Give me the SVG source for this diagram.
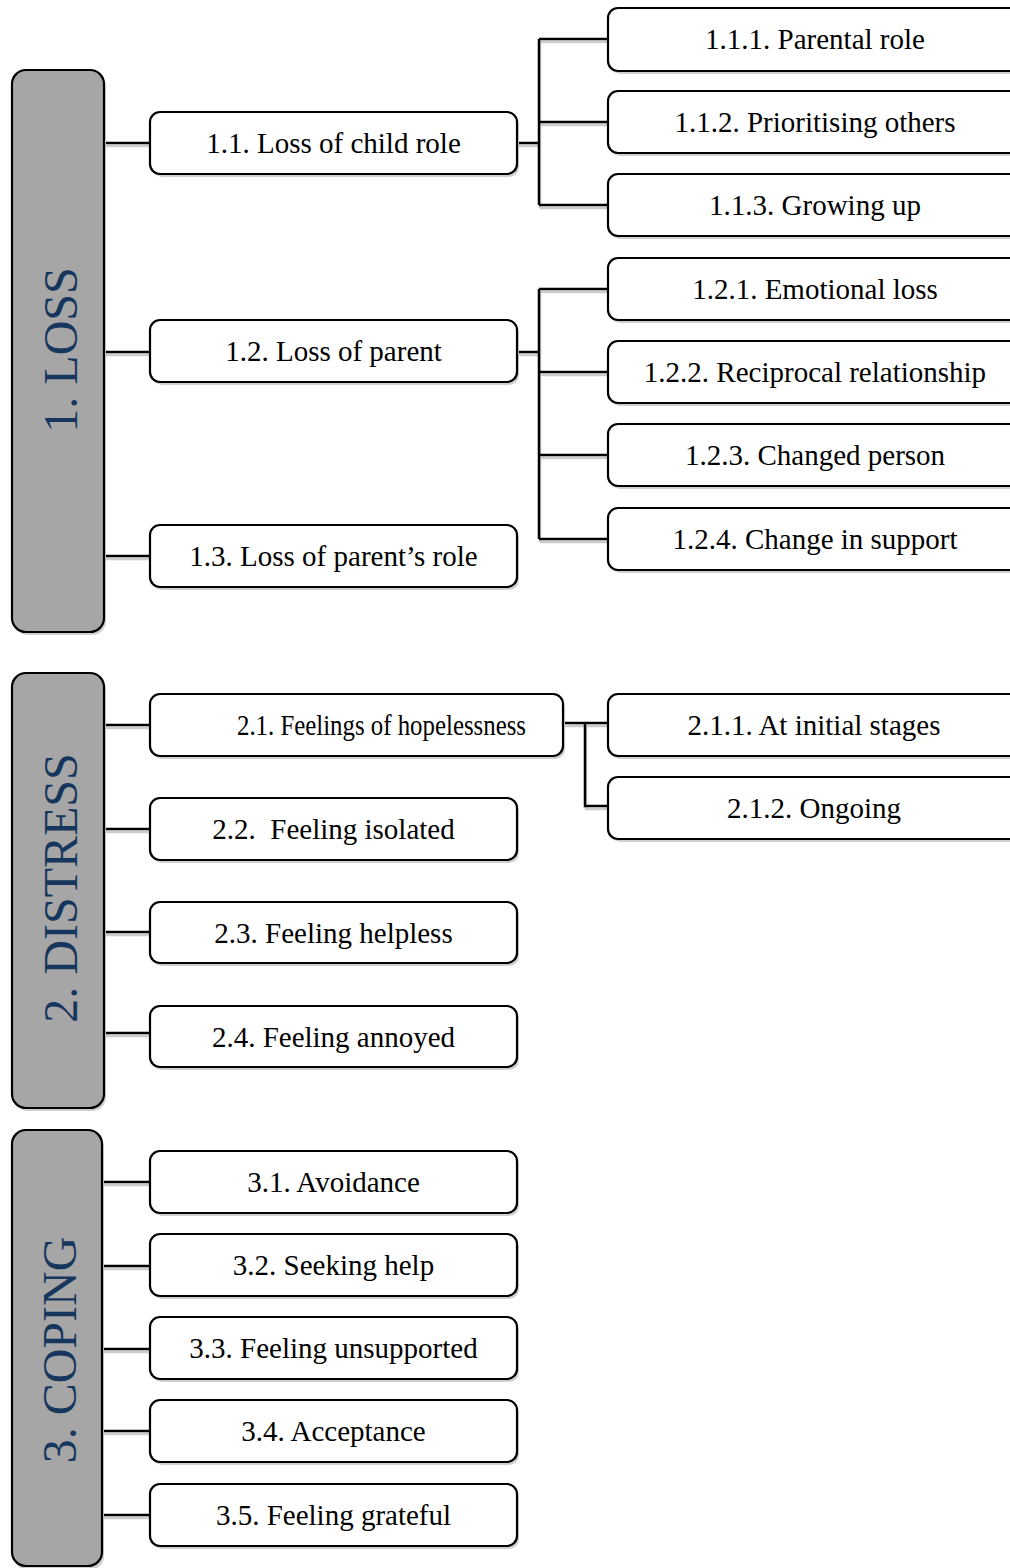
<svg xmlns="http://www.w3.org/2000/svg" width="1010" height="1568" viewBox="0 0 1010 1568">
<style>
.bg{fill:#ffffff}
.sh{fill:#cfcfcf}
.box{fill:#ffffff;stroke:#000000;stroke-width:2.2}
.tbox{fill:#a6a6a6;stroke:#000000;stroke-width:2.2}
.lbl{font-family:"Liberation Serif","Times New Roman",serif;font-size:29px;fill:#000000;text-anchor:middle}
.ttl{font-family:"Liberation Serif","Times New Roman",serif;font-size:48px;fill:#17365d;text-anchor:middle}
.ln{fill:none;stroke:#000000;stroke-width:2.5}
.lns{fill:none;stroke:#cccccc;stroke-width:2.5}
</style>
<rect class="bg" x="0" y="0" width="1010" height="1568"/>

<g id="connectors">
  <g transform="translate(1,3)">
    <path class="lns" d="M104 143H150M104 352H150M104 556H150"/>
    <path class="lns" d="M517 143H539M539 39V205M539 39H608M539 122H608M539 205H608"/>
    <path class="lns" d="M517 352H539M539 289V539M539 289H608M539 372H608M539 455H608M539 539H608"/>
    <path class="lns" d="M104 725H150M104 829H150M104 932H150M104 1033H150"/>
    <path class="lns" d="M563 723H608M585 723V806H608"/>
    <path class="lns" d="M102 1182H150M102 1266H150M102 1349H150M102 1431H150M102 1515H150"/>
  </g>
  <path class="ln" d="M104 143H150M104 352H150M104 556H150"/>
  <path class="ln" d="M517 143H539M539 39V205M539 39H608M539 122H608M539 205H608"/>
  <path class="ln" d="M517 352H539M539 289V539M539 289H608M539 372H608M539 455H608M539 539H608"/>
  <path class="ln" d="M104 725H150M104 829H150M104 932H150M104 1033H150"/>
  <path class="ln" d="M563 723H608M585 723V806H608"/>
  <path class="ln" d="M102 1182H150M102 1266H150M102 1349H150M102 1431H150M102 1515H150"/>
</g>

<g id="loss">
  <rect class="sh" x="14" y="73" width="92" height="562" rx="14"/>
  <rect class="tbox" x="12" y="70" width="92" height="562" rx="14"/>
  <text class="ttl" transform="translate(77,350) rotate(-90)">1. LOSS</text>
</g>
<g id="distress">
  <rect class="sh" x="14" y="676" width="92" height="435" rx="14"/>
  <rect class="tbox" x="12" y="673" width="92" height="435" rx="14"/>
  <text class="ttl" transform="translate(77,888) rotate(-90)">2. DISTRESS</text>
</g>
<g id="coping">
  <rect class="sh" x="14" y="1133" width="90" height="437" rx="14"/>
  <rect class="tbox" x="12" y="1130" width="90" height="436" rx="14"/>
  <text class="ttl" transform="translate(76,1350) rotate(-90)">3. COPING</text>
</g>

<g id="n1-1">
  <rect class="sh" x="152" y="115" width="367" height="62" rx="10"/>
  <rect class="box" x="150" y="112" width="367" height="62" rx="10"/>
  <text class="lbl" x="333.5" y="153">1.1. Loss of child role</text>
</g>
<g id="n1-2">
  <rect class="sh" x="152" y="323" width="367" height="62" rx="10"/>
  <rect class="box" x="150" y="320" width="367" height="62" rx="10"/>
  <text class="lbl" x="333.5" y="361">1.2. Loss of parent</text>
</g>
<g id="n1-3">
  <rect class="sh" x="152" y="528" width="367" height="62" rx="10"/>
  <rect class="box" x="150" y="525" width="367" height="62" rx="10"/>
  <text class="lbl" x="333.5" y="566">1.3. Loss of parent’s role</text>
</g>

<g id="n1-1-1">
  <rect class="sh" x="610" y="11" width="414" height="63" rx="10"/>
  <rect class="box" x="608" y="8" width="414" height="63" rx="10"/>
  <text class="lbl" x="815" y="49">1.1.1. Parental role</text>
</g>
<g id="n1-1-2">
  <rect class="sh" x="610" y="94" width="414" height="62" rx="10"/>
  <rect class="box" x="608" y="91" width="414" height="62" rx="10"/>
  <text class="lbl" x="815" y="132">1.1.2. Prioritising others</text>
</g>
<g id="n1-1-3">
  <rect class="sh" x="610" y="177" width="414" height="62" rx="10"/>
  <rect class="box" x="608" y="174" width="414" height="62" rx="10"/>
  <text class="lbl" x="815" y="215">1.1.3. Growing up</text>
</g>
<g id="n1-2-1">
  <rect class="sh" x="610" y="261" width="414" height="62" rx="10"/>
  <rect class="box" x="608" y="258" width="414" height="62" rx="10"/>
  <text class="lbl" x="815" y="299">1.2.1. Emotional loss</text>
</g>
<g id="n1-2-2">
  <rect class="sh" x="610" y="344" width="414" height="62" rx="10"/>
  <rect class="box" x="608" y="341" width="414" height="62" rx="10"/>
  <text class="lbl" x="815" y="382">1.2.2. Reciprocal relationship</text>
</g>
<g id="n1-2-3">
  <rect class="sh" x="610" y="427" width="414" height="62" rx="10"/>
  <rect class="box" x="608" y="424" width="414" height="62" rx="10"/>
  <text class="lbl" x="815" y="465">1.2.3. Changed person</text>
</g>
<g id="n1-2-4">
  <rect class="sh" x="610" y="511" width="414" height="62" rx="10"/>
  <rect class="box" x="608" y="508" width="414" height="62" rx="10"/>
  <text class="lbl" x="815" y="549">1.2.4. Change in support</text>
</g>

<g id="n2-1">
  <rect class="sh" x="152" y="697" width="413" height="62" rx="10"/>
  <rect class="box" x="150" y="694" width="413" height="62" rx="10"/>
  <text class="lbl" x="381.5" y="735" textLength="289" lengthAdjust="spacingAndGlyphs">2.1. Feelings of hopelessness</text>
</g>
<g id="n2-1-1">
  <rect class="sh" x="610" y="697" width="414" height="62" rx="10"/>
  <rect class="box" x="608" y="694" width="414" height="62" rx="10"/>
  <text class="lbl" x="814" y="735">2.1.1. At initial stages</text>
</g>
<g id="n2-1-2">
  <rect class="sh" x="610" y="780" width="414" height="62" rx="10"/>
  <rect class="box" x="608" y="777" width="414" height="62" rx="10"/>
  <text class="lbl" x="814" y="818">2.1.2. Ongoing</text>
</g>
<g id="n2-2">
  <rect class="sh" x="152" y="801" width="367" height="62" rx="10"/>
  <rect class="box" x="150" y="798" width="367" height="62" rx="10"/>
  <text class="lbl" x="333.5" y="839" xml:space="preserve">2.2.  Feeling isolated</text>
</g>
<g id="n2-3">
  <rect class="sh" x="152" y="905" width="367" height="61" rx="10"/>
  <rect class="box" x="150" y="902" width="367" height="61" rx="10"/>
  <text class="lbl" x="333.5" y="943">2.3. Feeling helpless</text>
</g>
<g id="n2-4">
  <rect class="sh" x="152" y="1009" width="367" height="61" rx="10"/>
  <rect class="box" x="150" y="1006" width="367" height="61" rx="10"/>
  <text class="lbl" x="333.5" y="1047">2.4. Feeling annoyed</text>
</g>

<g id="n3-1">
  <rect class="sh" x="152" y="1154" width="367" height="62" rx="10"/>
  <rect class="box" x="150" y="1151" width="367" height="62" rx="10"/>
  <text class="lbl" x="333.5" y="1192">3.1. Avoidance</text>
</g>
<g id="n3-2">
  <rect class="sh" x="152" y="1237" width="367" height="62" rx="10"/>
  <rect class="box" x="150" y="1234" width="367" height="62" rx="10"/>
  <text class="lbl" x="333.5" y="1275">3.2. Seeking help</text>
</g>
<g id="n3-3">
  <rect class="sh" x="152" y="1320" width="367" height="62" rx="10"/>
  <rect class="box" x="150" y="1317" width="367" height="62" rx="10"/>
  <text class="lbl" x="333.5" y="1358">3.3. Feeling unsupported</text>
</g>
<g id="n3-4">
  <rect class="sh" x="152" y="1403" width="367" height="62" rx="10"/>
  <rect class="box" x="150" y="1400" width="367" height="62" rx="10"/>
  <text class="lbl" x="333.5" y="1441">3.4. Acceptance</text>
</g>
<g id="n3-5">
  <rect class="sh" x="152" y="1487" width="367" height="62" rx="10"/>
  <rect class="box" x="150" y="1484" width="367" height="62" rx="10"/>
  <text class="lbl" x="333.5" y="1525">3.5. Feeling grateful</text>
</g>
</svg>
